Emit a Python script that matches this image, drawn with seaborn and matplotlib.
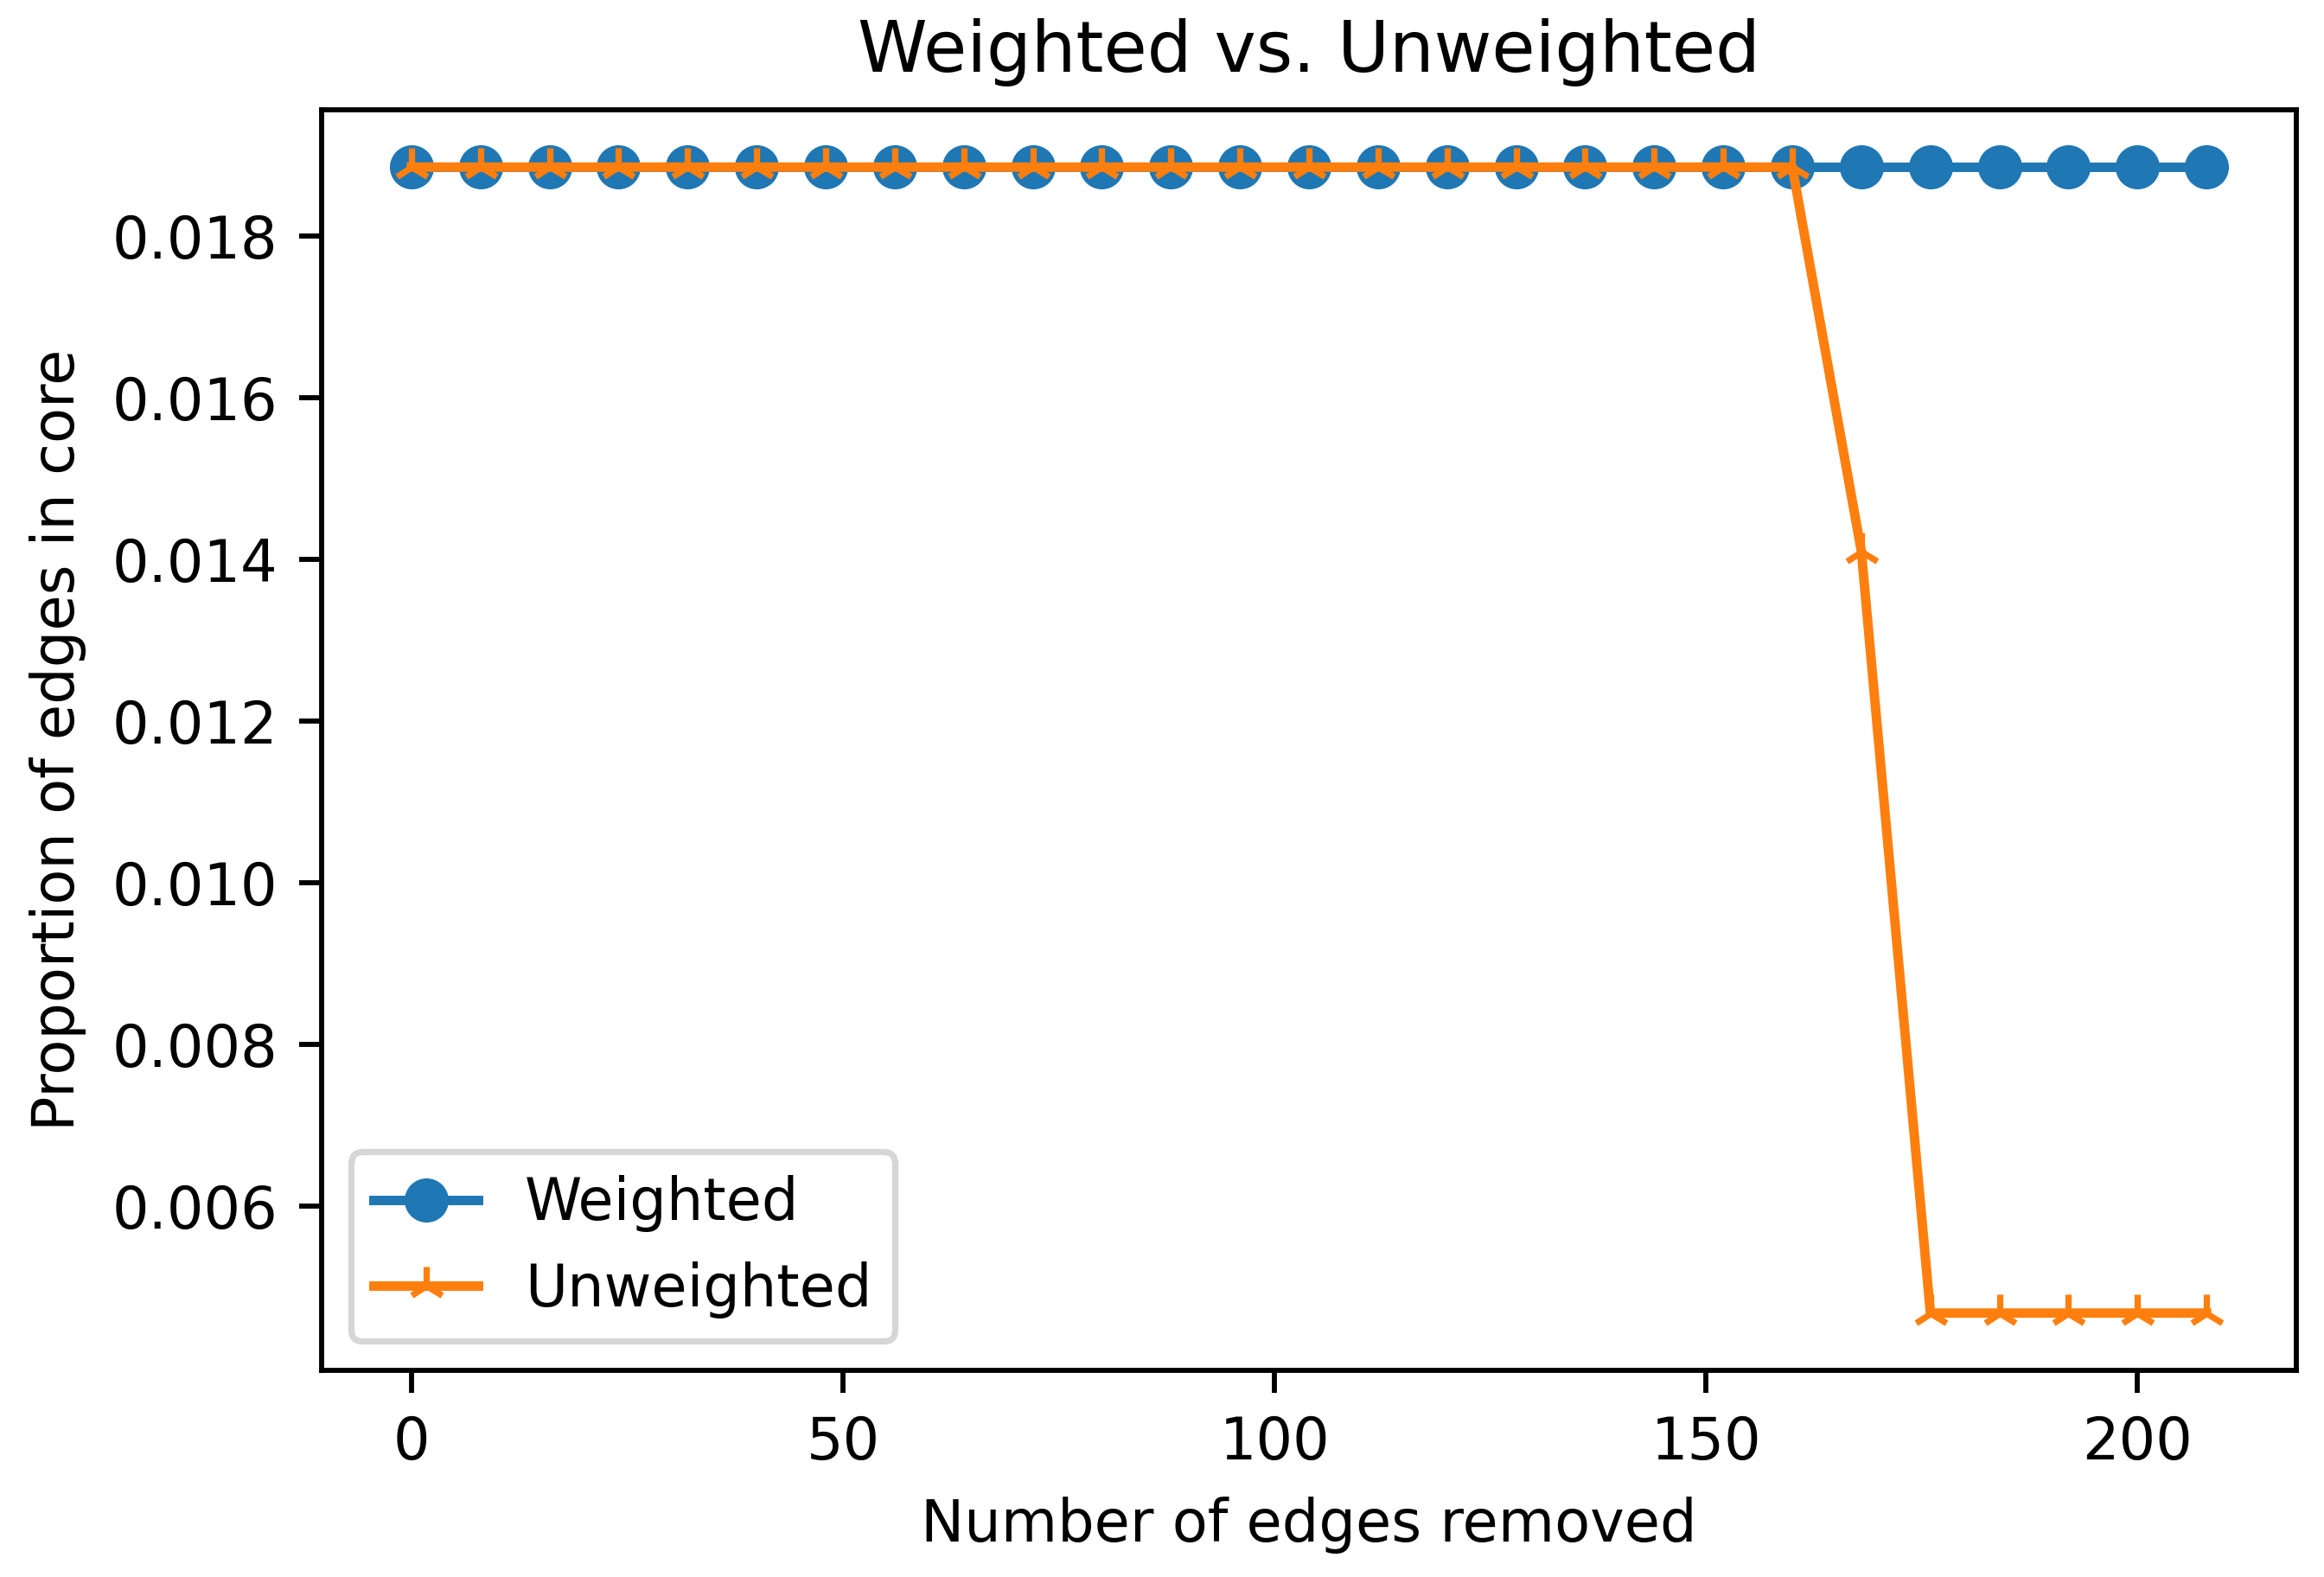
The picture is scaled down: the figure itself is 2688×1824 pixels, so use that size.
import matplotlib
matplotlib.use("Agg")
import matplotlib.pyplot as plt
import seaborn as sns

edges_removed = [0, 8, 16, 24, 32, 40, 48, 56, 64, 72, 80, 88, 96, 104,
                 112, 120, 128, 136, 144, 152, 160, 168, 176, 184, 192, 200, 208]
weighted = [0.01885, 0.01885, 0.01885, 0.01885, 0.01885, 0.01885, 0.01885,
            0.01885, 0.01885, 0.01885, 0.01885, 0.01885, 0.01885, 0.01885,
            0.01885, 0.01885, 0.01885, 0.01885, 0.01885, 0.01885, 0.01885,
            0.01885, 0.01885, 0.01885, 0.01885, 0.01885, 0.01885]
unweighted = [0.01885, 0.01885, 0.01885, 0.01885, 0.01885, 0.01885, 0.01885,
              0.01885, 0.01885, 0.01885, 0.01885, 0.01885, 0.01885, 0.01885,
              0.01885, 0.01885, 0.01885, 0.01885, 0.01885, 0.01885, 0.01885,
              0.0141, 0.00468, 0.00468, 0.00468, 0.00468, 0.00468]
series_labels = ["Weighted", "Unweighted"]
title = "Weighted vs. Unweighted"
x_label = "Number of edges removed"
y_label = "Proportion of edges in core"

plt.rcParams['font.family'] = ['DejaVu Sans']
plt.rcParams['font.size'] = 9.2
fig = plt.figure(figsize=(5.12, 1824 / 525), dpi=525)
ax = fig.add_axes([372 / 2688, 1 - 1585 / 1824, (2656 - 372) / 2688, (1585 - 127) / 1824])

blue = "#1f77b4"
orange = "#ff7f0e"
sns.lineplot(x=edges_removed, y=weighted, ax=ax, color=blue, marker="o",
             markeredgecolor=blue, markerfacecolor=blue, markeredgewidth=1.0,
             markersize=6, linewidth=1.5, dashes=False, label=series_labels[0])
sns.lineplot(x=edges_removed, y=unweighted, ax=ax, color=orange, marker="2",
             markeredgecolor=orange, markersize=6, markeredgewidth=1.0,
             linewidth=1.5, dashes=False, label=series_labels[1])

ax.set_title(title, fontsize=11.2)
ax.set_xlabel(x_label, fontsize=9.2)
ax.set_ylabel(y_label, fontsize=9.2)
ax.legend(loc="lower left", fontsize=9.2, handlelength=1.8)
ax.set_xticks([0, 50, 100, 150, 200])
ax.set_yticks([0.006, 0.008, 0.010, 0.012, 0.014, 0.016, 0.018])
ax.set_yticklabels(["0.006", "0.008", "0.010", "0.012", "0.014", "0.016", "0.018"])
ax.tick_params(labelsize=9.2)

fig.savefig("out.png", dpi=525)
